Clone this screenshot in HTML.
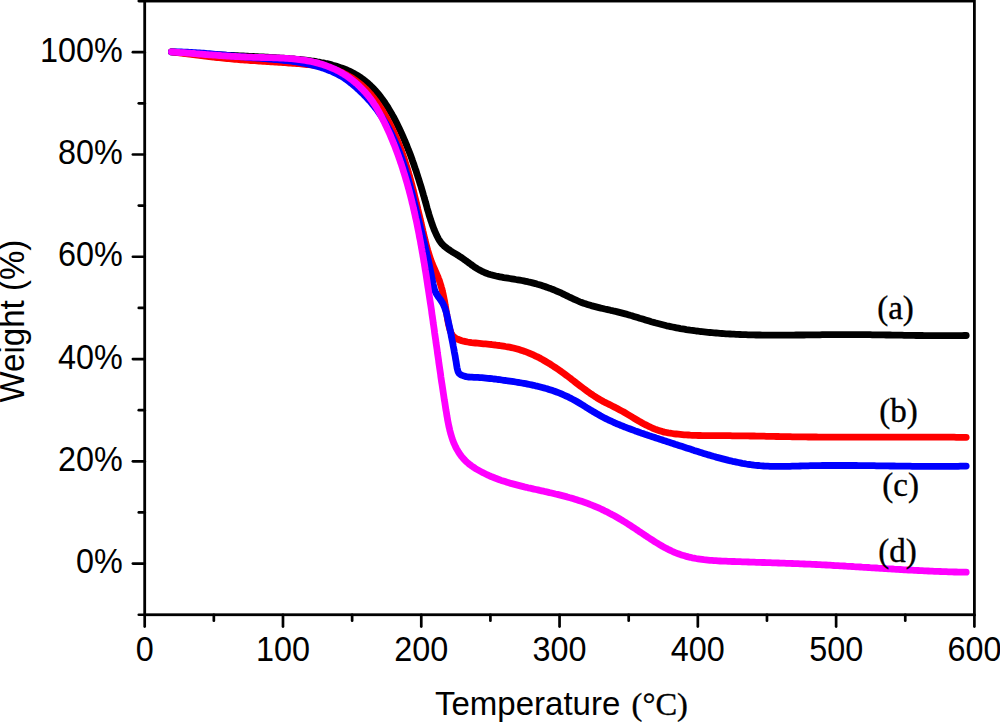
<!DOCTYPE html>
<html><head><meta charset="utf-8"><style>
html,body{margin:0;padding:0;background:#fff;width:1000px;height:722px;overflow:hidden}
svg{display:block}
.t{font-family:"Liberation Sans",sans-serif;font-size:33.5px;fill:#000}
.s{font-family:"Liberation Serif",serif;font-size:33px;fill:#000;stroke:#000;stroke-width:0.35px}
</style></head><body>
<svg width="1000" height="722" viewBox="0 0 1000 722">
<g fill="none" stroke-width="6.8" stroke-linecap="round" stroke-linejoin="round">
<path d="M171.5,51.9 173.5,52.0 175.5,52.2 177.5,52.4 179.5,52.5 181.5,52.7 183.5,52.8 185.5,52.9 187.4,53.1 189.4,53.2 191.4,53.3 193.4,53.5 195.4,53.6 197.4,53.7 199.4,53.8 201.4,53.9 203.4,54.1 205.4,54.2 207.4,54.3 209.4,54.4 211.4,54.5 213.4,54.6 215.4,54.7 217.4,54.8 219.4,54.9 221.4,55.0 223.4,55.1 225.4,55.2 227.4,55.3 229.4,55.4 231.4,55.4 233.4,55.5 235.4,55.6 237.4,55.7 239.4,55.8 241.4,55.9 243.4,56.0 245.4,56.1 247.4,56.2 249.4,56.3 251.4,56.4 253.4,56.5 255.4,56.6 257.4,56.7 259.4,56.8 261.4,56.9 263.4,57.0 265.4,57.1 267.4,57.2 269.4,57.4 271.4,57.5 273.4,57.6 275.4,57.7 277.4,57.8 279.4,58.0 281.4,58.1 283.4,58.2 285.4,58.4 287.4,58.5 289.4,58.7 291.4,58.8 293.4,59.0 295.3,59.2 297.3,59.3 299.3,59.5 301.3,59.7 303.3,59.9 305.3,60.1 307.2,60.4 309.2,60.6 311.2,60.9 313.2,61.1 315.1,61.4 317.1,61.8 319.1,62.1 321.0,62.5 323.0,62.8 325.0,63.3 326.9,63.7 328.9,64.1 330.8,64.6 332.7,65.2 334.7,65.7 336.6,66.3 338.5,66.9 340.4,67.6 342.4,68.3 344.3,69.0 346.2,69.7 348.0,70.5 349.9,71.4 351.7,72.3 353.5,73.2 355.2,74.2 357.0,75.2 358.7,76.2 360.3,77.3 361.9,78.5 363.5,79.6 365.1,80.9 366.6,82.1 368.1,83.4 369.6,84.7 371.0,86.1 372.4,87.5 373.8,88.9 375.1,90.3 376.4,91.8 377.7,93.3 379.0,94.8 380.2,96.4 381.4,98.0 382.6,99.6 383.8,101.2 384.9,102.8 386.0,104.5 387.1,106.2 388.2,107.9 389.2,109.6 390.3,111.4 391.3,113.1 392.3,114.9 393.3,116.6 394.2,118.4 395.2,120.2 396.1,122.0 397.0,123.8 397.9,125.7 398.8,127.5 399.6,129.3 400.5,131.1 401.3,133.0 402.2,134.8 403.0,136.6 403.8,138.5 404.6,140.3 405.3,142.2 406.1,144.0 406.9,145.9 407.6,147.7 408.3,149.6 409.1,151.4 409.8,153.3 410.5,155.1 411.2,157.0 411.9,158.9 412.5,160.7 413.2,162.6 413.9,164.5 414.5,166.4 415.1,168.2 415.8,170.1 416.4,172.0 417.0,173.9 417.6,175.8 418.2,177.7 418.8,179.6 419.4,181.5 420.0,183.4 420.6,185.3 421.2,187.2 421.7,189.1 422.3,191.0 422.9,193.0 423.4,194.9 424.0,196.8 424.5,198.8 425.1,200.7 425.6,202.6 426.2,204.6 426.7,206.5 427.2,208.4 427.8,210.4 428.4,212.3 428.9,214.2 429.5,216.2 430.1,218.1 430.7,220.0 431.4,221.9 432.0,223.8 432.7,225.7 433.4,227.6 434.1,229.5 434.9,231.3 435.7,233.1 436.5,235.0 437.4,236.8 438.3,238.6 439.3,240.3 440.4,241.9 441.6,243.5 443.0,244.9 444.4,246.3 446.0,247.5 447.6,248.7 449.3,249.9 450.9,251.0 452.6,252.1 454.3,253.1 456.1,254.2 457.8,255.2 459.5,256.3 461.2,257.4 462.8,258.5 464.5,259.7 466.1,260.9 467.7,262.0 469.3,263.2 470.9,264.4 472.6,265.6 474.2,266.8 475.9,267.9 477.5,268.9 479.2,269.9 481.0,270.8 482.7,271.7 484.5,272.5 486.4,273.2 488.2,273.9 490.1,274.5 492.0,275.0 493.9,275.5 495.9,276.0 497.8,276.4 499.8,276.8 501.8,277.2 503.8,277.6 505.8,277.9 507.8,278.2 509.8,278.5 511.8,278.8 513.8,279.1 515.8,279.5 517.8,279.8 519.8,280.1 521.8,280.5 523.8,280.9 525.7,281.3 527.7,281.7 529.6,282.2 531.6,282.6 533.5,283.1 535.4,283.6 537.4,284.2 539.3,284.7 541.2,285.3 543.1,285.9 544.9,286.5 546.8,287.2 548.7,287.9 550.6,288.5 552.4,289.3 554.3,290.0 556.1,290.8 557.9,291.6 559.8,292.4 561.6,293.2 563.4,294.1 565.2,295.0 567.0,295.9 568.9,296.8 570.7,297.6 572.5,298.5 574.3,299.4 576.2,300.2 578.0,301.0 579.9,301.8 581.7,302.5 583.6,303.2 585.5,303.8 587.4,304.4 589.3,305.0 591.2,305.6 593.1,306.1 595.1,306.6 597.0,307.1 598.9,307.6 600.9,308.1 602.8,308.5 604.8,309.0 606.7,309.4 608.7,309.8 610.6,310.3 612.6,310.7 614.5,311.2 616.5,311.6 618.4,312.1 620.4,312.6 622.3,313.1 624.2,313.6 626.2,314.1 628.1,314.7 630.0,315.3 632.0,315.8 633.9,316.4 635.8,317.0 637.7,317.6 639.6,318.2 641.6,318.7 643.5,319.3 645.4,319.9 647.3,320.5 649.2,321.1 651.2,321.7 653.1,322.2 655.0,322.8 656.9,323.3 658.9,323.8 660.8,324.3 662.8,324.8 664.7,325.3 666.6,325.8 668.6,326.2 670.5,326.6 672.5,327.0 674.5,327.4 676.4,327.8 678.4,328.2 680.4,328.6 682.3,328.9 684.3,329.2 686.3,329.6 688.2,329.9 690.2,330.2 692.2,330.4 694.2,330.7 696.2,331.0 698.1,331.2 700.1,331.5 702.1,331.7 704.1,331.9 706.1,332.1 708.1,332.3 710.1,332.5 712.1,332.7 714.1,332.9 716.0,333.0 718.0,333.2 720.0,333.4 722.0,333.5 724.0,333.6 726.0,333.8 728.0,333.9 730.0,334.0 732.0,334.1 734.0,334.2 736.0,334.3 738.0,334.4 740.0,334.5 742.0,334.6 744.0,334.6 746.0,334.7 748.0,334.8 750.0,334.8 752.0,334.9 754.0,334.9 756.0,335.0 758.0,335.0 760.0,335.0 762.0,335.1 764.0,335.1 766.0,335.1 768.0,335.1 770.0,335.1 772.0,335.1 774.0,335.1 776.0,335.2 778.0,335.2 780.0,335.1 782.0,335.1 784.0,335.1 786.0,335.1 788.0,335.1 790.0,335.1 792.0,335.1 794.0,335.1 796.0,335.0 798.0,335.0 800.0,335.0 802.1,335.0 804.1,335.0 806.1,334.9 808.1,334.9 810.1,334.9 812.1,334.9 814.1,334.8 816.1,334.8 818.1,334.8 820.1,334.8 822.1,334.7 824.1,334.7 826.1,334.7 828.1,334.7 830.1,334.7 832.1,334.6 834.1,334.6 836.1,334.6 838.1,334.6 840.1,334.6 842.1,334.6 844.1,334.6 846.1,334.6 848.1,334.6 850.1,334.6 852.1,334.6 854.1,334.6 856.1,334.6 858.1,334.6 860.1,334.6 862.2,334.6 864.2,334.7 866.2,334.7 868.2,334.7 870.2,334.7 872.2,334.8 874.2,334.8 876.2,334.8 878.2,334.8 880.1,334.9 882.1,334.9 884.1,334.9 886.1,335.0 888.1,335.0 890.1,335.0 892.1,335.1 894.1,335.1 896.1,335.1 898.1,335.2 900.1,335.2 902.1,335.2 904.1,335.3 906.1,335.3 908.1,335.3 910.1,335.4 912.1,335.4 914.1,335.4 916.1,335.5 918.1,335.5 920.1,335.5 922.1,335.5 924.1,335.6 926.1,335.6 928.1,335.6 930.1,335.6 932.1,335.6 934.1,335.7 936.1,335.7 938.1,335.7 940.1,335.7 942.2,335.7 944.2,335.7 946.2,335.7 948.2,335.7 950.2,335.7 952.2,335.7 954.2,335.7 956.2,335.6 958.2,335.6 960.2,335.6 962.2,335.6 964.2,335.5 966.2,335.5" stroke="#000000"/>
<path d="M171.5,51.9 173.5,52.1 175.5,52.4 177.5,52.6 179.5,52.8 181.4,53.1 183.4,53.3 185.4,53.6 187.4,53.8 189.4,54.1 191.4,54.3 193.3,54.6 195.3,54.8 197.3,55.1 199.3,55.3 201.3,55.6 203.3,55.8 205.2,56.1 207.2,56.3 209.2,56.6 211.2,56.8 213.2,57.0 215.2,57.3 217.1,57.5 219.1,57.7 221.1,57.9 223.1,58.1 225.1,58.3 227.1,58.5 229.1,58.7 231.1,58.9 233.1,59.1 235.0,59.3 237.0,59.4 239.0,59.6 241.0,59.8 243.0,59.9 245.0,60.1 247.0,60.2 249.0,60.3 251.0,60.5 253.0,60.6 255.0,60.7 257.0,60.9 259.0,61.0 261.0,61.1 263.0,61.3 265.0,61.4 267.0,61.5 269.0,61.6 271.0,61.8 273.0,61.9 275.0,62.0 277.0,62.1 279.0,62.3 281.0,62.4 283.0,62.5 285.0,62.7 287.0,62.8 289.0,63.0 291.0,63.1 293.0,63.3 294.9,63.4 296.9,63.6 298.9,63.7 300.9,63.9 302.9,64.1 304.9,64.3 306.9,64.5 308.9,64.7 310.9,64.9 312.9,65.1 314.8,65.4 316.8,65.7 318.8,66.0 320.7,66.3 322.7,66.7 324.6,67.1 326.5,67.5 328.5,68.0 330.4,68.5 332.3,69.0 334.2,69.6 336.0,70.2 337.9,70.9 339.8,71.7 341.6,72.4 343.4,73.3 345.2,74.2 347.0,75.1 348.8,76.1 350.5,77.1 352.2,78.2 353.9,79.3 355.6,80.5 357.2,81.7 358.8,82.9 360.4,84.2 362.0,85.5 363.5,86.8 364.9,88.2 366.4,89.6 367.8,91.1 369.1,92.5 370.5,94.0 371.8,95.6 373.0,97.1 374.3,98.7 375.5,100.3 376.6,101.9 377.8,103.5 378.9,105.2 380.0,106.9 381.1,108.5 382.2,110.2 383.2,111.9 384.2,113.6 385.2,115.4 386.2,117.1 387.1,118.8 388.1,120.6 389.0,122.3 389.9,124.1 390.8,125.9 391.7,127.7 392.5,129.4 393.4,131.2 394.2,133.1 395.0,134.9 395.8,136.7 396.6,138.5 397.3,140.4 398.1,142.2 398.8,144.1 399.6,145.9 400.3,147.8 401.0,149.6 401.6,151.5 402.3,153.4 403.0,155.3 403.6,157.2 404.3,159.1 404.9,161.0 405.5,162.9 406.1,164.8 406.7,166.7 407.3,168.6 407.9,170.5 408.4,172.5 409.0,174.4 409.5,176.3 410.1,178.3 410.6,180.2 411.1,182.2 411.7,184.1 412.2,186.0 412.7,188.0 413.2,189.9 413.7,191.9 414.2,193.8 414.6,195.8 415.1,197.8 415.6,199.7 416.1,201.7 416.5,203.6 417.0,205.6 417.5,207.5 417.9,209.5 418.4,211.5 418.8,213.4 419.3,215.4 419.8,217.3 420.2,219.3 420.7,221.2 421.1,223.2 421.6,225.1 422.0,227.1 422.5,229.0 422.9,231.0 423.4,232.9 423.8,234.9 424.3,236.8 424.8,238.7 425.2,240.6 425.7,242.6 426.2,244.5 426.7,246.4 427.2,248.3 427.7,250.2 428.3,252.1 428.9,254.0 429.5,255.9 430.1,257.8 430.7,259.7 431.4,261.5 432.1,263.4 432.9,265.3 433.7,267.1 434.5,268.9 435.3,270.8 436.1,272.6 436.9,274.5 437.7,276.3 438.4,278.2 439.2,280.1 439.8,282.0 440.4,283.9 441.0,285.8 441.5,287.7 442.1,289.6 442.5,291.6 443.0,293.5 443.4,295.4 443.8,297.4 444.2,299.4 444.6,301.3 444.9,303.3 445.2,305.2 445.6,307.2 445.9,309.2 446.2,311.1 446.5,313.1 446.9,315.1 447.2,317.1 447.5,319.0 447.9,321.0 448.3,323.0 448.7,325.0 449.2,326.9 449.7,328.9 450.3,330.8 451.0,332.7 451.9,334.5 453.0,336.1 454.5,337.4 456.1,338.5 457.9,339.3 459.8,340.0 461.8,340.7 463.7,341.2 465.6,341.6 467.6,342.0 469.6,342.3 471.5,342.6 473.5,342.8 475.5,343.0 477.5,343.2 479.5,343.4 481.5,343.6 483.5,343.8 485.5,343.9 487.5,344.1 489.5,344.3 491.5,344.5 493.5,344.8 495.5,345.0 497.5,345.3 499.5,345.5 501.5,345.8 503.5,346.1 505.5,346.5 507.5,346.8 509.5,347.2 511.4,347.6 513.4,348.0 515.3,348.5 517.2,349.0 519.1,349.6 521.0,350.2 522.9,350.8 524.8,351.4 526.7,352.1 528.5,352.8 530.3,353.6 532.1,354.4 533.9,355.2 535.7,356.1 537.5,356.9 539.3,357.8 541.0,358.8 542.8,359.7 544.5,360.7 546.2,361.7 548.0,362.8 549.7,363.8 551.3,364.9 553.0,366.0 554.7,367.1 556.4,368.2 558.0,369.3 559.7,370.5 561.3,371.6 562.9,372.8 564.6,374.0 566.2,375.2 567.8,376.4 569.4,377.6 571.0,378.8 572.6,380.1 574.2,381.3 575.7,382.5 577.3,383.8 578.9,385.0 580.5,386.2 582.1,387.4 583.7,388.6 585.3,389.8 586.9,391.0 588.5,392.1 590.1,393.3 591.8,394.4 593.4,395.5 595.1,396.6 596.8,397.7 598.5,398.7 600.2,399.7 602.0,400.7 603.7,401.7 605.5,402.6 607.3,403.5 609.1,404.4 610.9,405.3 612.7,406.2 614.5,407.1 616.3,408.0 618.1,409.0 619.8,409.9 621.6,410.9 623.3,411.8 625.0,412.8 626.8,413.9 628.5,414.9 630.2,415.9 631.9,416.9 633.6,418.0 635.3,419.0 637.0,420.0 638.7,421.0 640.5,422.0 642.2,423.0 644.0,424.0 645.8,424.9 647.6,425.8 649.4,426.7 651.2,427.5 653.0,428.3 654.9,429.1 656.8,429.8 658.7,430.4 660.6,431.0 662.5,431.6 664.4,432.1 666.4,432.5 668.3,432.9 670.3,433.2 672.3,433.5 674.3,433.8 676.2,434.0 678.2,434.2 680.2,434.4 682.2,434.6 684.2,434.8 686.2,434.9 688.2,435.0 690.2,435.2 692.2,435.3 694.2,435.3 696.2,435.4 698.2,435.5 700.2,435.5 702.2,435.6 704.2,435.6 706.2,435.7 708.2,435.7 710.2,435.7 712.2,435.7 714.2,435.7 716.2,435.7 718.2,435.7 720.2,435.7 722.2,435.7 724.2,435.7 726.2,435.7 728.2,435.7 730.2,435.7 732.2,435.8 734.2,435.8 736.2,435.8 738.2,435.8 740.2,435.8 742.2,435.8 744.2,435.9 746.2,435.9 748.2,435.9 750.2,436.0 752.2,436.0 754.2,436.0 756.2,436.1 758.2,436.1 760.2,436.2 762.2,436.2 764.2,436.2 766.2,436.3 768.2,436.3 770.2,436.4 772.2,436.4 774.2,436.4 776.2,436.5 778.2,436.5 780.2,436.6 782.2,436.6 784.2,436.6 786.2,436.7 788.2,436.7 790.2,436.7 792.2,436.8 794.2,436.8 796.2,436.8 798.2,436.8 800.2,436.9 802.2,436.9 804.2,436.9 806.2,436.9 808.2,437.0 810.2,437.0 812.2,437.0 814.2,437.0 816.2,437.0 818.2,437.1 820.2,437.1 822.2,437.1 824.2,437.1 826.2,437.1 828.2,437.1 830.2,437.1 832.2,437.1 834.2,437.2 836.2,437.2 838.2,437.2 840.2,437.2 842.2,437.2 844.2,437.2 846.2,437.2 848.2,437.2 850.2,437.2 852.2,437.2 854.2,437.2 856.2,437.2 858.2,437.2 860.2,437.2 862.2,437.2 864.2,437.2 866.2,437.2 868.2,437.2 870.2,437.2 872.2,437.2 874.2,437.2 876.2,437.2 878.2,437.2 880.2,437.2 882.2,437.2 884.2,437.2 886.2,437.2 888.2,437.2 890.2,437.2 892.2,437.2 894.2,437.2 896.2,437.2 898.2,437.2 900.2,437.2 902.2,437.2 904.2,437.2 906.2,437.2 908.2,437.2 910.2,437.2 912.2,437.2 914.2,437.2 916.2,437.2 918.2,437.2 920.2,437.2 922.2,437.2 924.2,437.2 926.2,437.2 928.2,437.2 930.2,437.2 932.2,437.2 934.2,437.2 936.2,437.2 938.2,437.2 940.2,437.2 942.2,437.2 944.2,437.2 946.2,437.2 948.2,437.2 950.2,437.2 952.2,437.2 954.2,437.2 956.2,437.3 958.2,437.3 960.2,437.3 962.2,437.3 964.2,437.3 966.2,437.3" stroke="#ff0000"/>
<path d="M171.5,51.9 173.5,51.9 175.5,51.9 177.5,51.9 179.5,52.0 181.5,52.0 183.5,52.1 185.5,52.2 187.5,52.2 189.5,52.3 191.5,52.4 193.5,52.6 195.5,52.7 197.5,52.8 199.5,52.9 201.5,53.1 203.5,53.2 205.5,53.4 207.4,53.6 209.4,53.7 211.4,53.9 213.4,54.1 215.4,54.3 217.4,54.5 219.4,54.6 221.4,54.8 223.4,55.0 225.4,55.2 227.4,55.4 229.4,55.6 231.4,55.8 233.4,56.0 235.4,56.2 237.3,56.4 239.3,56.6 241.3,56.8 243.3,56.9 245.3,57.1 247.3,57.3 249.3,57.5 251.3,57.6 253.3,57.8 255.3,57.9 257.3,58.1 259.3,58.2 261.3,58.4 263.3,58.5 265.3,58.7 267.3,58.8 269.2,59.0 271.2,59.2 273.2,59.3 275.2,59.5 277.2,59.7 279.2,59.9 281.2,60.0 283.2,60.3 285.2,60.5 287.1,60.7 289.1,60.9 291.1,61.2 293.1,61.5 295.1,61.7 297.0,62.0 299.0,62.4 301.0,62.7 302.9,63.1 304.9,63.4 306.9,63.8 308.8,64.3 310.8,64.7 312.8,65.2 314.7,65.7 316.7,66.2 318.6,66.7 320.5,67.3 322.4,67.9 324.4,68.6 326.2,69.2 328.1,70.0 330.0,70.7 331.8,71.5 333.6,72.3 335.4,73.1 337.2,74.0 339.0,75.0 340.7,75.9 342.4,76.9 344.1,78.0 345.7,79.1 347.3,80.3 348.9,81.4 350.4,82.7 352.0,83.9 353.5,85.2 355.0,86.5 356.5,87.8 358.0,89.2 359.5,90.5 360.9,91.9 362.4,93.3 363.8,94.8 365.3,96.2 366.7,97.7 368.0,99.1 369.4,100.6 370.7,102.1 372.0,103.7 373.3,105.2 374.5,106.8 375.8,108.4 377.0,109.9 378.1,111.5 379.3,113.2 380.4,114.8 381.5,116.5 382.6,118.1 383.6,119.8 384.7,121.5 385.7,123.2 386.7,124.9 387.6,126.6 388.6,128.4 389.5,130.1 390.4,131.9 391.3,133.6 392.2,135.4 393.0,137.2 393.9,139.0 394.7,140.8 395.5,142.6 396.3,144.5 397.0,146.3 397.8,148.2 398.5,150.0 399.2,151.9 400.0,153.7 400.6,155.6 401.3,157.5 402.0,159.4 402.7,161.3 403.3,163.2 403.9,165.1 404.5,167.0 405.2,168.9 405.7,170.9 406.3,172.8 406.9,174.7 407.5,176.7 408.0,178.6 408.6,180.6 409.1,182.5 409.7,184.4 410.2,186.4 410.7,188.4 411.2,190.3 411.8,192.3 412.3,194.2 412.8,196.2 413.3,198.1 413.7,200.1 414.2,202.1 414.7,204.0 415.2,206.0 415.7,207.9 416.1,209.9 416.6,211.8 417.1,213.8 417.6,215.7 418.0,217.7 418.5,219.6 419.0,221.5 419.5,223.5 419.9,225.4 420.4,227.3 420.9,229.3 421.4,231.2 421.8,233.1 422.3,235.1 422.8,237.0 423.3,238.9 423.7,240.8 424.2,242.7 424.6,244.7 425.1,246.6 425.6,248.5 426.0,250.4 426.5,252.4 426.9,254.3 427.4,256.2 427.8,258.2 428.2,260.1 428.7,262.1 429.1,264.0 429.5,266.0 429.9,267.9 430.3,269.9 430.7,271.9 431.1,273.8 431.5,275.8 431.9,277.8 432.3,279.8 432.7,281.8 433.0,283.8 433.5,285.8 434.0,287.7 434.5,289.7 435.2,291.5 436.1,293.3 437.1,295.0 438.2,296.7 439.4,298.3 440.6,299.9 441.7,301.6 442.7,303.3 443.6,305.1 444.4,306.9 445.1,308.8 445.7,310.7 446.3,312.6 446.8,314.5 447.2,316.5 447.7,318.5 448.1,320.5 448.5,322.4 448.9,324.4 449.4,326.4 449.8,328.3 450.2,330.3 450.6,332.2 451.0,334.2 451.3,336.2 451.7,338.1 452.1,340.1 452.5,342.0 452.9,344.0 453.2,345.9 453.6,347.9 454.0,349.9 454.3,351.8 454.7,353.8 455.1,355.8 455.4,357.7 455.7,359.7 456.1,361.7 456.4,363.7 456.7,365.6 457.0,367.6 457.5,369.6 458.0,371.5 459.0,373.3 460.4,374.6 462.3,375.4 464.2,376.1 466.1,376.7 468.1,377.0 470.0,377.2 472.0,377.2 473.9,377.3 475.9,377.3 477.9,377.4 479.9,377.6 481.9,377.7 483.8,377.9 485.8,378.1 487.8,378.3 489.8,378.5 491.8,378.7 493.8,379.0 495.8,379.2 497.8,379.5 499.8,379.7 501.8,380.0 503.8,380.3 505.8,380.5 507.8,380.8 509.8,381.1 511.8,381.4 513.7,381.7 515.7,382.0 517.7,382.3 519.7,382.7 521.7,383.0 523.7,383.3 525.7,383.7 527.6,384.1 529.6,384.5 531.6,384.9 533.5,385.3 535.5,385.8 537.4,386.2 539.4,386.7 541.3,387.2 543.2,387.7 545.1,388.3 547.1,388.8 549.0,389.4 550.9,390.0 552.7,390.6 554.6,391.3 556.5,392.0 558.3,392.7 560.2,393.4 562.0,394.2 563.8,395.0 565.7,395.8 567.5,396.6 569.2,397.5 571.0,398.4 572.8,399.4 574.5,400.3 576.3,401.3 578.0,402.3 579.7,403.3 581.5,404.4 583.2,405.4 584.9,406.5 586.6,407.6 588.3,408.6 590.0,409.7 591.8,410.7 593.5,411.8 595.2,412.8 596.9,413.8 598.7,414.8 600.4,415.8 602.2,416.8 604.0,417.7 605.8,418.6 607.6,419.5 609.4,420.4 611.2,421.2 613.0,422.0 614.8,422.9 616.6,423.7 618.5,424.4 620.3,425.2 622.2,425.9 624.0,426.7 625.9,427.4 627.7,428.1 629.6,428.8 631.5,429.5 633.3,430.2 635.2,430.9 637.1,431.5 639.0,432.2 640.9,432.9 642.8,433.5 644.6,434.2 646.5,434.8 648.4,435.4 650.3,436.1 652.2,436.7 654.1,437.3 656.0,438.0 657.9,438.6 659.8,439.2 661.7,439.8 663.6,440.5 665.5,441.1 667.4,441.7 669.3,442.3 671.2,442.9 673.1,443.5 675.0,444.2 676.9,444.8 678.8,445.4 680.7,446.0 682.6,446.6 684.5,447.3 686.4,447.9 688.3,448.5 690.2,449.1 692.1,449.7 694.0,450.4 695.9,451.0 697.8,451.6 699.7,452.2 701.7,452.8 703.6,453.4 705.5,454.0 707.4,454.6 709.3,455.1 711.3,455.7 713.2,456.3 715.1,456.8 717.0,457.4 719.0,457.9 720.9,458.4 722.8,458.9 724.8,459.4 726.7,459.9 728.6,460.4 730.6,460.8 732.5,461.3 734.5,461.7 736.4,462.1 738.4,462.5 740.3,462.9 742.3,463.3 744.3,463.6 746.2,464.0 748.2,464.3 750.1,464.5 752.1,464.8 754.1,465.1 756.1,465.3 758.1,465.5 760.0,465.7 762.0,465.8 764.0,466.0 766.0,466.1 768.0,466.2 770.0,466.3 772.0,466.3 774.0,466.4 776.0,466.4 778.0,466.4 780.0,466.4 782.1,466.4 784.1,466.4 786.1,466.3 788.1,466.3 790.1,466.3 792.1,466.2 794.1,466.2 796.2,466.1 798.2,466.1 800.2,466.0 802.2,465.9 804.2,465.9 806.2,465.8 808.2,465.8 810.3,465.7 812.3,465.7 814.3,465.7 816.3,465.6 818.3,465.6 820.3,465.6 822.3,465.5 824.3,465.5 826.3,465.5 828.3,465.5 830.3,465.5 832.3,465.5 834.3,465.5 836.3,465.5 838.3,465.5 840.3,465.5 842.3,465.5 844.3,465.5 846.3,465.5 848.3,465.5 850.3,465.5 852.3,465.5 854.3,465.5 856.3,465.5 858.3,465.6 860.3,465.6 862.3,465.6 864.3,465.6 866.3,465.6 868.3,465.7 870.3,465.7 872.3,465.7 874.3,465.7 876.3,465.8 878.2,465.8 880.2,465.8 882.2,465.9 884.2,465.9 886.2,465.9 888.2,465.9 890.2,466.0 892.2,466.0 894.2,466.0 896.2,466.1 898.2,466.1 900.2,466.1 902.2,466.1 904.2,466.2 906.1,466.2 908.1,466.2 910.1,466.2 912.1,466.3 914.1,466.3 916.1,466.3 918.1,466.3 920.1,466.3 922.1,466.4 924.1,466.4 926.1,466.4 928.1,466.4 930.1,466.4 932.1,466.4 934.1,466.4 936.1,466.4 938.1,466.4 940.1,466.4 942.1,466.4 944.1,466.4 946.1,466.4 948.1,466.4 950.1,466.4 952.1,466.3 954.1,466.3 956.1,466.3 958.2,466.3 960.2,466.2 962.2,466.2 964.2,466.1 966.2,466.1" stroke="#0000ff"/>
<path d="M171.5,51.9 173.5,52.0 175.5,52.2 177.5,52.3 179.5,52.5 181.5,52.6 183.5,52.7 185.5,52.9 187.5,53.1 189.5,53.2 191.5,53.4 193.5,53.5 195.5,53.7 197.5,53.8 199.5,54.0 201.5,54.1 203.5,54.3 205.5,54.5 207.5,54.6 209.4,54.8 211.4,54.9 213.4,55.1 215.4,55.2 217.4,55.4 219.4,55.5 221.4,55.7 223.4,55.8 225.3,55.9 227.3,56.1 229.3,56.2 231.3,56.3 233.3,56.4 235.3,56.5 237.3,56.6 239.3,56.7 241.3,56.8 243.3,56.9 245.3,57.0 247.3,57.1 249.3,57.2 251.3,57.2 253.3,57.3 255.3,57.3 257.3,57.4 259.4,57.4 261.4,57.5 263.4,57.5 265.4,57.6 267.4,57.6 269.4,57.7 271.5,57.7 273.5,57.8 275.5,57.8 277.5,57.9 279.5,58.0 281.5,58.1 283.5,58.2 285.5,58.3 287.5,58.4 289.5,58.6 291.5,58.7 293.5,58.9 295.5,59.1 297.5,59.3 299.5,59.6 301.5,59.8 303.4,60.1 305.4,60.4 307.4,60.8 309.3,61.1 311.3,61.5 313.2,62.0 315.1,62.4 317.1,62.9 319.0,63.4 320.9,64.0 322.8,64.6 324.7,65.2 326.6,65.9 328.4,66.6 330.3,67.3 332.1,68.1 334.0,68.9 335.8,69.7 337.6,70.6 339.3,71.5 341.1,72.5 342.8,73.5 344.5,74.6 346.2,75.7 347.9,76.8 349.5,78.0 351.1,79.2 352.7,80.4 354.2,81.7 355.8,83.0 357.3,84.3 358.8,85.7 360.2,87.1 361.6,88.5 363.1,89.9 364.4,91.4 365.8,92.9 367.1,94.4 368.4,96.0 369.6,97.5 370.8,99.1 372.0,100.7 373.1,102.4 374.2,104.1 375.3,105.7 376.4,107.4 377.4,109.2 378.4,110.9 379.3,112.6 380.3,114.4 381.2,116.2 382.1,117.9 383.0,119.7 383.9,121.5 384.8,123.3 385.6,125.1 386.5,126.9 387.3,128.7 388.2,130.6 389.0,132.4 389.8,134.2 390.6,136.0 391.3,137.9 392.1,139.7 392.9,141.6 393.6,143.4 394.4,145.3 395.1,147.1 395.8,149.0 396.5,150.9 397.2,152.7 397.9,154.6 398.6,156.5 399.2,158.4 399.9,160.3 400.5,162.2 401.2,164.0 401.8,165.9 402.4,167.8 403.0,169.8 403.6,171.7 404.2,173.6 404.8,175.5 405.4,177.4 405.9,179.3 406.5,181.2 407.1,183.2 407.6,185.1 408.1,187.0 408.7,189.0 409.2,190.9 409.7,192.8 410.2,194.8 410.7,196.7 411.2,198.7 411.7,200.6 412.1,202.6 412.6,204.5 413.1,206.5 413.5,208.4 414.0,210.4 414.4,212.4 414.9,214.3 415.3,216.3 415.7,218.2 416.2,220.2 416.6,222.2 417.0,224.1 417.4,226.1 417.8,228.1 418.2,230.1 418.6,232.0 419.0,234.0 419.3,236.0 419.7,238.0 420.1,239.9 420.5,241.9 420.8,243.9 421.2,245.9 421.5,247.8 421.9,249.8 422.2,251.8 422.6,253.8 422.9,255.8 423.3,257.7 423.6,259.7 423.9,261.7 424.3,263.7 424.6,265.6 424.9,267.6 425.2,269.6 425.6,271.6 425.9,273.5 426.2,275.5 426.5,277.5 426.8,279.5 427.1,281.4 427.4,283.4 427.7,285.4 428.0,287.4 428.3,289.3 428.6,291.3 428.9,293.3 429.2,295.2 429.5,297.2 429.8,299.2 430.1,301.2 430.4,303.1 430.7,305.1 431.0,307.1 431.3,309.1 431.6,311.0 431.8,313.0 432.1,315.0 432.4,316.9 432.7,318.9 433.0,320.9 433.2,322.9 433.5,324.8 433.8,326.8 434.1,328.8 434.4,330.8 434.6,332.7 434.9,334.7 435.2,336.7 435.5,338.7 435.8,340.7 436.0,342.6 436.3,344.6 436.6,346.6 436.9,348.6 437.2,350.6 437.4,352.5 437.7,354.5 438.0,356.5 438.3,358.5 438.6,360.5 438.8,362.5 439.1,364.4 439.4,366.4 439.7,368.4 440.0,370.4 440.3,372.4 440.6,374.4 440.8,376.4 441.1,378.4 441.4,380.4 441.7,382.4 442.0,384.3 442.3,386.3 442.6,388.3 442.9,390.3 443.2,392.3 443.5,394.3 443.8,396.3 444.1,398.3 444.4,400.4 444.8,402.4 445.1,404.4 445.4,406.4 445.7,408.4 446.0,410.4 446.4,412.4 446.7,414.4 447.0,416.4 447.4,418.4 447.7,420.4 448.1,422.4 448.5,424.4 448.9,426.4 449.4,428.4 449.8,430.3 450.3,432.2 450.8,434.1 451.4,436.0 452.0,437.9 452.6,439.7 453.3,441.6 454.0,443.4 454.8,445.1 455.6,446.9 456.5,448.6 457.4,450.2 458.4,451.9 459.4,453.5 460.5,455.0 461.7,456.6 462.9,458.0 464.2,459.5 465.6,460.9 467.0,462.2 468.5,463.5 470.1,464.8 471.7,466.0 473.4,467.1 475.1,468.3 476.9,469.4 478.7,470.4 480.5,471.4 482.3,472.4 484.2,473.3 486.1,474.2 488.0,475.1 489.9,476.0 491.8,476.8 493.7,477.5 495.6,478.3 497.5,479.0 499.4,479.7 501.3,480.4 503.2,481.0 505.1,481.6 507.0,482.2 508.9,482.8 510.8,483.4 512.8,483.9 514.7,484.4 516.6,484.9 518.5,485.4 520.4,485.9 522.4,486.4 524.3,486.9 526.2,487.3 528.1,487.8 530.1,488.2 532.0,488.6 533.9,489.1 535.9,489.5 537.8,489.9 539.8,490.4 541.7,490.8 543.7,491.2 545.6,491.7 547.6,492.1 549.5,492.6 551.5,493.0 553.5,493.5 555.4,494.0 557.4,494.4 559.3,494.9 561.3,495.4 563.2,495.9 565.2,496.4 567.1,496.9 569.1,497.5 571.0,498.0 572.9,498.6 574.9,499.2 576.8,499.8 578.7,500.4 580.6,501.0 582.5,501.6 584.4,502.3 586.3,502.9 588.1,503.6 590.0,504.4 591.9,505.1 593.7,505.8 595.5,506.6 597.4,507.4 599.2,508.2 601.0,509.0 602.8,509.9 604.6,510.8 606.4,511.6 608.1,512.5 609.9,513.5 611.7,514.4 613.4,515.3 615.2,516.3 616.9,517.3 618.6,518.3 620.3,519.3 622.1,520.3 623.8,521.4 625.5,522.4 627.2,523.5 628.9,524.6 630.6,525.7 632.3,526.8 634.0,527.9 635.7,529.0 637.3,530.1 639.0,531.3 640.7,532.4 642.4,533.5 644.1,534.7 645.8,535.8 647.4,536.9 649.1,538.0 650.8,539.1 652.5,540.2 654.2,541.3 655.9,542.4 657.6,543.4 659.3,544.5 661.1,545.5 662.8,546.5 664.5,547.4 666.3,548.4 668.1,549.3 669.8,550.1 671.6,551.0 673.4,551.8 675.2,552.6 677.0,553.3 678.9,554.0 680.7,554.7 682.6,555.3 684.5,555.8 686.4,556.4 688.3,556.9 690.2,557.3 692.1,557.8 694.1,558.1 696.0,558.5 698.0,558.8 699.9,559.1 701.9,559.4 703.9,559.7 705.9,559.9 707.9,560.1 709.9,560.3 711.9,560.4 713.9,560.6 715.9,560.7 718.0,560.9 720.0,561.0 722.0,561.1 724.0,561.1 726.1,561.2 728.1,561.3 730.1,561.4 732.1,561.5 734.2,561.5 736.2,561.6 738.2,561.7 740.2,561.7 742.2,561.8 744.3,561.9 746.3,561.9 748.3,562.0 750.3,562.1 752.3,562.1 754.3,562.2 756.3,562.3 758.3,562.3 760.3,562.4 762.3,562.5 764.3,562.5 766.3,562.6 768.3,562.6 770.3,562.7 772.3,562.8 774.3,562.9 776.3,562.9 778.3,563.0 780.3,563.1 782.3,563.1 784.3,563.2 786.3,563.3 788.3,563.3 790.2,563.4 792.2,563.5 794.2,563.6 796.2,563.7 798.2,563.7 800.2,563.8 802.2,563.9 804.2,564.0 806.2,564.1 808.2,564.2 810.1,564.2 812.1,564.3 814.1,564.4 816.1,564.5 818.1,564.6 820.1,564.7 822.1,564.8 824.1,564.9 826.1,565.0 828.1,565.1 830.1,565.2 832.1,565.3 834.1,565.5 836.1,565.6 838.1,565.7 840.1,565.8 842.1,565.9 844.1,566.0 846.1,566.2 848.1,566.3 850.1,566.4 852.1,566.5 854.1,566.7 856.1,566.8 858.1,566.9 860.1,567.0 862.1,567.2 864.1,567.3 866.1,567.4 868.1,567.5 870.1,567.7 872.1,567.8 874.1,567.9 876.1,568.0 878.1,568.2 880.1,568.3 882.2,568.4 884.2,568.5 886.2,568.7 888.2,568.8 890.2,568.9 892.2,569.0 894.2,569.2 896.2,569.3 898.2,569.4 900.2,569.5 902.2,569.6 904.2,569.8 906.2,569.9 908.2,570.0 910.2,570.1 912.2,570.2 914.2,570.3 916.2,570.4 918.2,570.5 920.2,570.6 922.2,570.7 924.3,570.8 926.3,570.9 928.3,571.0 930.3,571.1 932.3,571.2 934.3,571.3 936.3,571.3 938.3,571.4 940.3,571.5 942.3,571.6 944.3,571.7 946.3,571.7 948.3,571.8 950.2,571.8 952.2,571.9 954.2,572.0 956.2,572.0 958.2,572.1 960.2,572.1 962.2,572.1 964.2,572.2 966.2,572.2" stroke="#ff00ff"/>
</g>
<g stroke="#000" stroke-width="2.7" stroke-linecap="round">
<rect x="144.70" y="1.06" width="829.70" height="613.68" fill="none" stroke="#000" stroke-width="2.8"/>
<line x1="138.80" y1="614.74" x2="144.70" y2="614.74"/>
<line x1="132.90" y1="563.60" x2="144.70" y2="563.60"/>
<line x1="138.80" y1="512.46" x2="144.70" y2="512.46"/>
<line x1="132.90" y1="461.32" x2="144.70" y2="461.32"/>
<line x1="138.80" y1="410.18" x2="144.70" y2="410.18"/>
<line x1="132.90" y1="359.04" x2="144.70" y2="359.04"/>
<line x1="138.80" y1="307.90" x2="144.70" y2="307.90"/>
<line x1="132.90" y1="256.76" x2="144.70" y2="256.76"/>
<line x1="138.80" y1="205.62" x2="144.70" y2="205.62"/>
<line x1="132.90" y1="154.48" x2="144.70" y2="154.48"/>
<line x1="138.80" y1="103.34" x2="144.70" y2="103.34"/>
<line x1="132.90" y1="52.20" x2="144.70" y2="52.20"/>
<line x1="138.80" y1="1.06" x2="144.70" y2="1.06"/>
<line x1="144.70" y1="614.74" x2="144.70" y2="626.54"/>
<line x1="213.84" y1="614.74" x2="213.84" y2="620.64"/>
<line x1="282.98" y1="614.74" x2="282.98" y2="626.54"/>
<line x1="352.12" y1="614.74" x2="352.12" y2="620.64"/>
<line x1="421.27" y1="614.74" x2="421.27" y2="626.54"/>
<line x1="490.41" y1="614.74" x2="490.41" y2="620.64"/>
<line x1="559.55" y1="614.74" x2="559.55" y2="626.54"/>
<line x1="628.69" y1="614.74" x2="628.69" y2="620.64"/>
<line x1="697.83" y1="614.74" x2="697.83" y2="626.54"/>
<line x1="766.97" y1="614.74" x2="766.97" y2="620.64"/>
<line x1="836.12" y1="614.74" x2="836.12" y2="626.54"/>
<line x1="905.26" y1="614.74" x2="905.26" y2="620.64"/>
<line x1="974.40" y1="614.74" x2="974.40" y2="626.54"/>
</g>
<g class="t">
<text transform="translate(122.90,573.20) scale(0.925,1)" text-anchor="end" style="font-size:35px">0%</text>
<text transform="translate(122.90,470.92) scale(0.925,1)" text-anchor="end" style="font-size:35px">20%</text>
<text transform="translate(122.90,368.64) scale(0.925,1)" text-anchor="end" style="font-size:35px">40%</text>
<text transform="translate(122.90,266.36) scale(0.925,1)" text-anchor="end" style="font-size:35px">60%</text>
<text transform="translate(122.90,164.08) scale(0.925,1)" text-anchor="end" style="font-size:35px">80%</text>
<text transform="translate(122.90,61.80) scale(0.925,1)" text-anchor="end" style="font-size:35px">100%</text>
<text transform="translate(144.70,661.00) scale(0.925,1)" text-anchor="middle" style="font-size:35px">0</text>
<text transform="translate(282.98,661.00) scale(0.925,1)" text-anchor="middle" style="font-size:35px">100</text>
<text transform="translate(421.27,661.00) scale(0.925,1)" text-anchor="middle" style="font-size:35px">200</text>
<text transform="translate(559.55,661.00) scale(0.925,1)" text-anchor="middle" style="font-size:35px">300</text>
<text transform="translate(697.83,661.00) scale(0.925,1)" text-anchor="middle" style="font-size:35px">400</text>
<text transform="translate(836.12,661.00) scale(0.925,1)" text-anchor="middle" style="font-size:35px">500</text>
<text transform="translate(974.40,661.00) scale(0.925,1)" text-anchor="middle" style="font-size:35px">600</text>
<text transform="translate(434.9,714.6) scale(0.972,1)" style="font-size:34px">Temperature</text>
<text class="s" x="631.6" y="715.2" style="font-size:32.5px">(°C)</text>
<text transform="translate(23.9,402.5) rotate(-90) scale(0.955,1)" style="font-size:34.6px">Weight (%)</text>
</g>
<g class="s">
<text x="877.2" y="318.8">(a)</text>
<text x="879.2" y="421.5">(b)</text>
<text x="882.3" y="495.8">(c)</text>
<text x="878.2" y="561.8">(d)</text>
</g>
</svg>
</body></html>
